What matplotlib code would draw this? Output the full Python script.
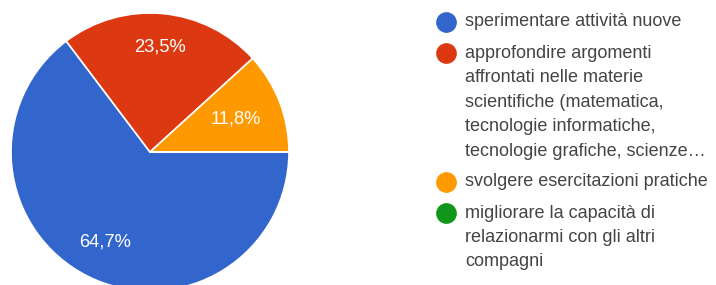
import matplotlib
matplotlib.use("Agg")
import numpy as np
import matplotlib.pyplot as plt
from matplotlib.lines import Line2D

# responses (count of answers)
labels = [
    "sperimentare attività nuove",
    "approfondire argomenti\naffrontati nelle materie\nscientifiche (matematica,\ntecnologie informatiche,\ntecnologie grafiche, scienze…",
    "svolgere esercitazioni pratiche",
    "migliorare la capacità di\nrelazionarmi con gli altri\ncompagni",
]
counts = [11, 4, 2, 0]
colors = ["#3366cc", "#dc3912", "#ff9900", "#109618"]

plt.rcParams["font.family"] = ["Liberation Sans", "DejaVu Sans"]

W, H = 716, 285
fig = plt.figure(figsize=(W / 100, H / 100), dpi=100)

# pie axes: centre (150,152) px, radius ~139 px
cx, cy, r = 150, 152, 139
ax = fig.add_axes([(cx - r) / W, (H - cy - r) / H, 2 * r / W, 2 * r / H])


def fmt(p):
    if p < 1:
        return ""
    return f"{p:.1f}%".replace(".", ",")


wedges, _, autotexts = ax.pie(
    counts, colors=colors, startangle=0, counterclock=False,
    autopct=fmt, pctdistance=0.72,
    wedgeprops=dict(edgecolor="white", linewidth=1.2),
    textprops=dict(color="white", fontsize=13.2),
)
# label distance from centre, per slice (google-style placement)
label_dist = [0.725, 0.76, 0.663, 0.7]
for w, t, d in zip(wedges, autotexts, label_dist):
    mid = np.deg2rad((w.theta1 + w.theta2) / 2)
    t.set_position((d * np.cos(mid), d * np.sin(mid)))
ax.set_xlim(-1, 1)
ax.set_ylim(-1, 1)
ax.set_aspect("equal")

# legend, drawn by hand so the dot sits on the first line
x_dot, x_txt = 446 / W, 465 / W
y = 22.0            # px from top, centre of first line
pitch, gap = 24.5, 6.5
for lab, c in zip(labels, colors):
    fig.add_artist(Line2D([x_dot], [1 - y / H], transform=fig.transFigure,
                          linestyle="none", marker="o", markersize=13.9,
                          markerfacecolor=c, markeredgecolor=c))
    for line in lab.split("\n"):
        fig.text(x_txt, 1 - (y + 4.5) / H, line, fontsize=13,
                 color="#444444", ha="left", va="baseline")
        y += pitch
    y += gap

fig.savefig("out.png", dpi=100)
